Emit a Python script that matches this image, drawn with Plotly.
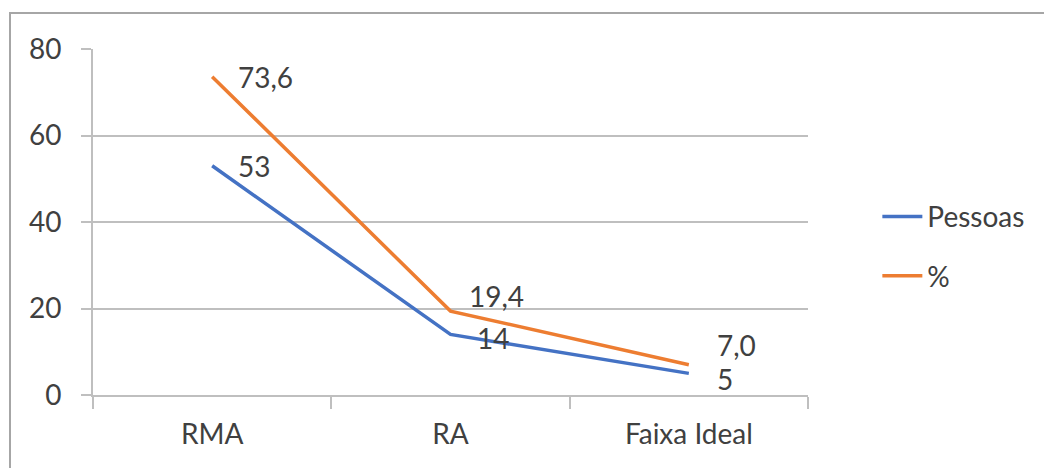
import plotly.graph_objects as go

categories = ["RMA", "RA", "Faixa Ideal"]
pessoas = [53, 14, 5]
percent = [73.6, 19.4, 7.0]
pessoas_labels = ["53", "14", "5"]
percent_labels = ["73,6", "19,4", "7,0"]
y_ticks = [0, 20, 40, 60, 80]

BLUE = "#4472C4"
ORANGE = "#ED7D31"
TEXT = "#404040"
GRID = "#BFBFBF"
FONT = "Lato"
FS = 28

fig = go.Figure()
fig.add_trace(go.Scatter(x=categories, y=pessoas, mode="lines", name="Pessoas",
                         legendgroup="a", line=dict(color=BLUE, width=3.5)))
fig.add_trace(go.Scatter(x=categories, y=percent, mode="lines", name="%",
                         legendgroup="b", line=dict(color=ORANGE, width=3.5)))

# data labels (offsets only are styling)
p_shift = [(24, 0), (24, -4), (26, -6)]
c_shift = [(24, 0), (16, 15), (26, 20)]
for cat, v, lab, (dx, dy) in zip(categories, pessoas, pessoas_labels, p_shift):
    fig.add_annotation(x=cat, y=v, text=lab, showarrow=False, xanchor="left",
                       yanchor="middle", xshift=dx, yshift=dy,
                       font=dict(family=FONT, size=FS, color=TEXT))
for cat, v, lab, (dx, dy) in zip(categories, percent, percent_labels, c_shift):
    fig.add_annotation(x=cat, y=v, text=lab, showarrow=False, xanchor="left",
                       yanchor="middle", xshift=dx, yshift=dy,
                       font=dict(family=FONT, size=FS, color=TEXT))

# page offset of 8px is compensated in margins
L, R, T, B = 85, 244, 41, 73
W, H = 1044, 460
pw, ph = W - L - R, H - T - B
fig.add_shape(type="rect", xref="paper", yref="paper",
              x0=(2 - L) / pw, x1=(W + 20 - L) / pw,
              y0=(H - B - (H + 20)) / ph, y1=(H - B - 5) / ph,
              line=dict(color="#A6A6A6", width=2), fillcolor="rgba(0,0,0,0)")

fig.update_layout(
    width=W, height=H,
    margin=dict(l=L, r=R, t=T, b=B, autoexpand=False),
    paper_bgcolor="white", plot_bgcolor="white",
    font=dict(family=FONT, size=FS, color=TEXT),
    legend=dict(x=1.097, y=0.43, xanchor="left", yanchor="middle",
                font=dict(family=FONT, size=FS, color=TEXT),
                tracegroupgap=20, itemwidth=40, bgcolor="rgba(0,0,0,0)"),
    xaxis=dict(type="category", range=[-0.5, 2.5], showgrid=False, showline=True,
               linecolor=GRID, linewidth=2, ticks="outside", tickson="boundaries",
               ticklen=12, tickcolor=GRID, tickwidth=2, ticklabelstandoff=13,
               tickfont=dict(family=FONT, size=FS, color=TEXT)),
    yaxis=dict(range=[0, 80], tickvals=y_ticks, showgrid=True, gridcolor=GRID,
               gridwidth=2, showline=True, linecolor=GRID, linewidth=2,
               ticks="outside", ticklen=10, tickcolor=GRID, tickwidth=2,
               ticklabelstandoff=14, zeroline=False,
               tickfont=dict(family=FONT, size=FS, color=TEXT)),
)

fig.write_html("out.html")
